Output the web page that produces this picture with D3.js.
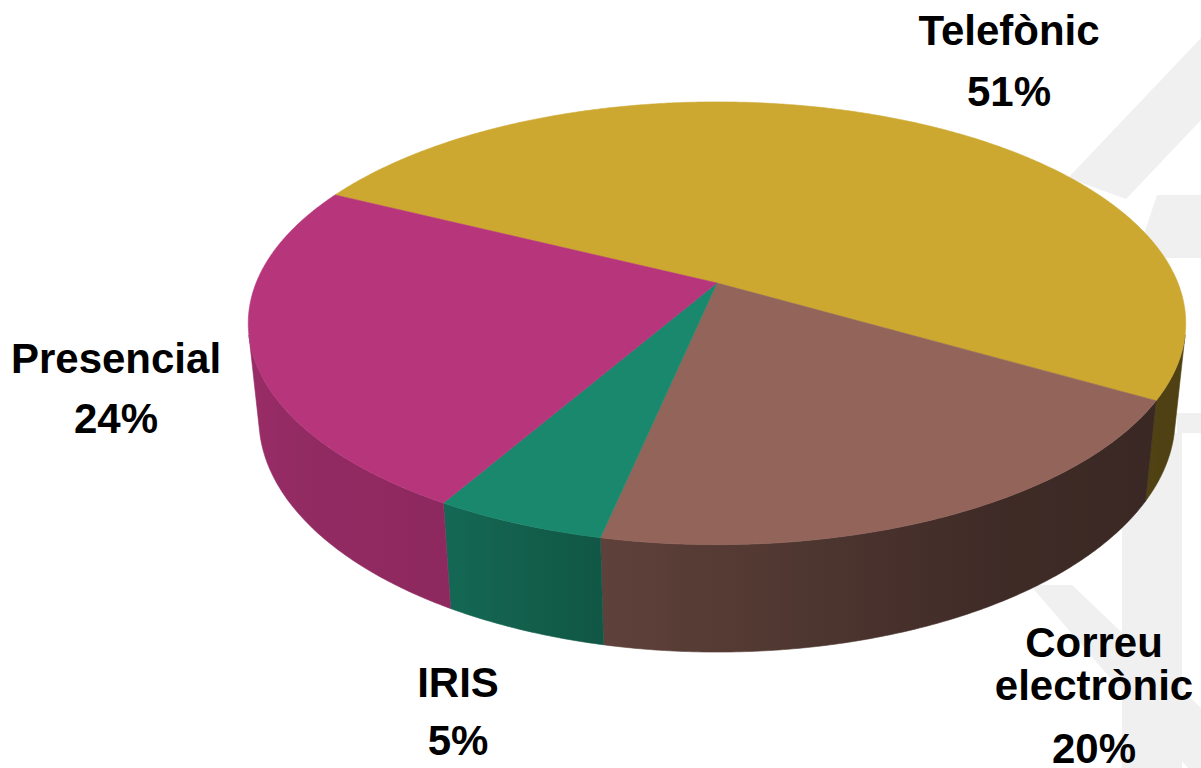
<!DOCTYPE html>
<html>
<head>
<meta charset="utf-8">
<script src="https://cdn.jsdelivr.net/npm/d3@7"></script>
<style>
  html, body { margin: 0; padding: 0; background: #ffffff; }
  svg { display: block; }
</style>
</head>
<body>
<svg id="chart" width="1201" height="768"></svg>
<script>
// Canals d'atenció: share of enquiries per channel
const categories = ["Telefònic", "Correu electrònic", "IRIS", "Presencial"];
const values = [51, 20, 5, 24];
const topColors = ["#CCA830", "#93655A", "#1A886D", "#B7357B"];

// label lines per category (name split over lines)
const labelLines = [["Telefònic"], ["Correu", "electrònic"], ["IRIS"], ["Presencial"]];
// label anchor x and baselines (name lines, then percentage)
const labelLayout = [
  { x: 1009, ys: [45, 106] },
  { x: 1094, ys: [657, 700, 763] },
  { x: 458, ys: [697, 755] },
  { x: 116, ys: [373, 433] }
];

const svg = d3.select("#chart");
const defs = svg.append("defs");

// faint background motif
const motif = [
  [[1068,178],[1201,38],[1201,120],[1126,199]],
  [[1157,195],[1201,195],[1201,258],[1136,258]],
  [[1177,413],[1201,413],[1201,433],[1177,433]],
  [[1122,433],[1182,433],[1182,768],[1122,768]],
  [[1030,585],[1072,585],[1201,708],[1201,768],[1188,768]]
];
svg.append("g").selectAll("path").data(motif).join("path")
  .attr("d", d => d3.line()(d) + "Z")
  .attr("fill", "#f0f0f0");

// perspective camera for the 3D disc
const cx = 717, cy = 283;
const D = 1, R = 0.2054, F = 2244;
const phi = 27.67 * Math.PI / 180;
const sp = Math.sin(phi), cp = Math.cos(phi);
const depthH = 0.0484; // disc thickness

function project(t, h) {
  const x = R * Math.cos(t), d = R * Math.sin(t);
  const z = D - d * cp - h * sp;
  return [cx + F * x / z, cy + F * (d * sp - h * cp) / z];
}
function projectCenter(h) {
  const z = D - h * sp;
  return [cx, cy + F * (-h * cp) / z];
}

// pie angles: d3 angles run clockwise from 12 o'clock (the back of the disc)
const startDeg = 296.4;
const pie = d3.pie().sort(null).value(d => d)
  .startAngle(startDeg * Math.PI / 180)
  .endAngle(startDeg * Math.PI / 180 + 2 * Math.PI);
const arcs = pie(values);
const toT = a => a - Math.PI / 2; // d3 angle -> world angle (0 = right, +90° = front)

// the wall faces the camera where sin t > R / (D cos phi)
const ts = Math.asin(R / (D * cp));
const visLo = ts, visHi = Math.PI - ts;

// wall brightness along the visible front (world angle in degrees)
const wallLight = d3.scaleLinear()
  .domain([0, 30, 60, 102, 120, 180])
  .range([0.38, 0.39, 0.43, 0.64, 0.77, 0.86])
  .clamp(true);
function shade(base, t) {
  const k = wallLight(t * 180 / Math.PI);
  const c = d3.rgb(base);
  return d3.rgb(c.r * k, c.g * k, c.b * k).formatHex();
}

// visible wall range of each slice
const walls = [];
arcs.forEach((a, i) => {
  const t0 = toT(a.startAngle), t1 = toT(a.endAngle);
  [-2 * Math.PI, 0, 2 * Math.PI].forEach(off => {
    const lo = Math.max(t0 + off, visLo), hi = Math.min(t1 + off, visHi);
    if (hi > lo) walls.push({ i, lo, hi });
  });
});

walls.forEach((w, n) => {
  const steps = Math.max(4, Math.ceil((w.hi - w.lo) / (0.5 * Math.PI / 180)));
  const tt = d3.range(steps + 1).map(j => w.lo + (w.hi - w.lo) * j / steps);
  const top = tt.map(t => project(t, 0));
  const bot = tt.map(t => project(t, -depthH)).reverse();
  w.d = d3.line()(top.concat(bot)) + "Z";
  const xa = top[0][0], xb = top[top.length - 1][0];
  const gid = "wall" + n;
  const g = defs.append("linearGradient").attr("id", gid)
    .attr("gradientUnits", "userSpaceOnUse")
    .attr("x1", xa).attr("y1", 0).attr("x2", xb).attr("y2", 0);
  tt.forEach((t, j) => {
    if (j % 4 !== 0 && j !== steps) return;
    g.append("stop")
      .attr("offset", Math.max(0, Math.min(1, (top[j][0] - xa) / (xb - xa))))
      .attr("stop-color", shade(topColors[w.i], t));
  });
  w.fill = "url(#" + gid + ")";
});

svg.append("g").selectAll("path").data(walls).join("path")
  .attr("d", d => d.d)
  .attr("fill", d => d.fill)
  .attr("stroke", d => d.fill)
  .attr("stroke-width", 0.6)
  .attr("stroke-linejoin", "round");

// top faces
function topPath(a) {
  const t0 = toT(a.startAngle), t1 = toT(a.endAngle);
  const n = Math.max(2, Math.ceil((t1 - t0) / (0.4 * Math.PI / 180)));
  const pts = [projectCenter(0)];
  for (let j = 0; j <= n; j++) pts.push(project(t0 + (t1 - t0) * j / n, 0));
  return d3.line()(pts) + "Z";
}
svg.append("g").selectAll("path").data(arcs).join("path")
  .attr("d", topPath)
  .attr("fill", (d, i) => topColors[i])
  .attr("stroke", (d, i) => topColors[i])
  .attr("stroke-width", 0.6)
  .attr("stroke-linejoin", "round");

// labels
const lg = svg.append("g")
  .attr("font-family", "'Liberation Sans', Arial, sans-serif")
  .attr("font-weight", "bold")
  .attr("font-size", 42)
  .attr("fill", "#000")
  .attr("text-anchor", "middle");
categories.forEach((c, i) => {
  const lines = labelLines[i].concat([values[i] + "%"]);
  const L = labelLayout[i];
  lines.forEach((s, j) => {
    lg.append("text").attr("x", L.x).attr("y", L.ys[j]).text(s);
  });
});
</script>
</body>
</html>
